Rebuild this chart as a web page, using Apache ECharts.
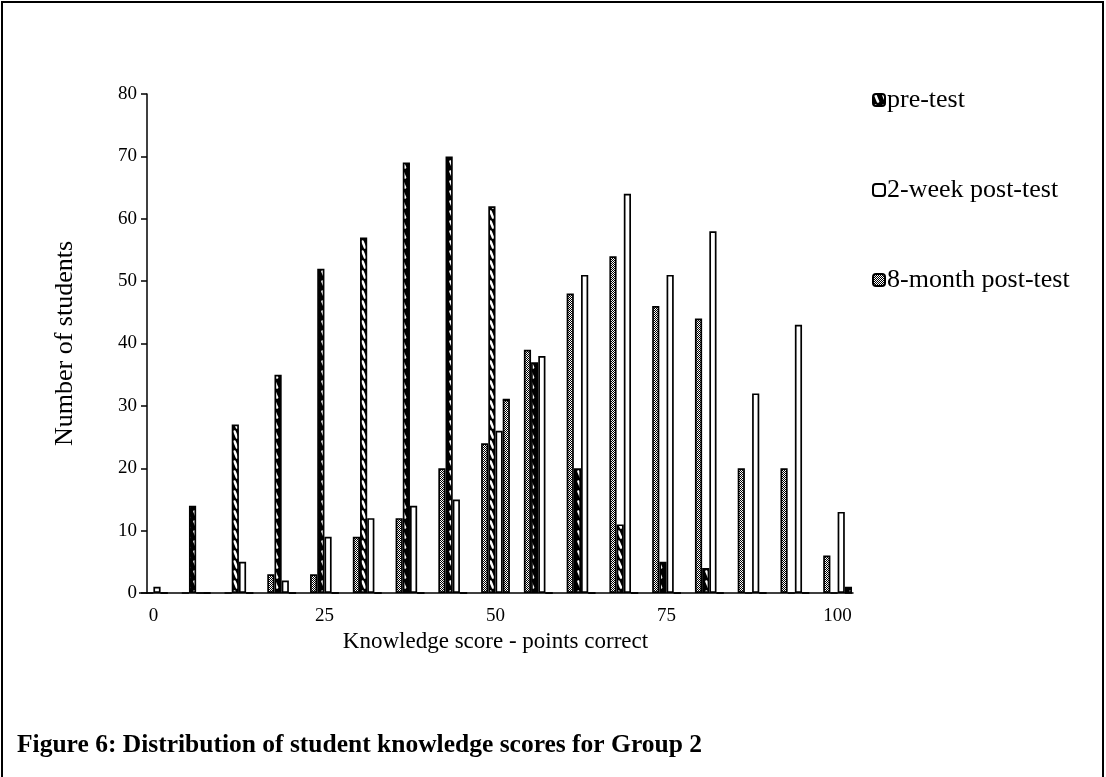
<!DOCTYPE html>
<html>
<head>
<meta charset="utf-8">
<script src="https://cdn.jsdelivr.net/npm/echarts@6/dist/echarts.min.js"></script>
<style>
  html, body { margin: 0; padding: 0; background: #fff; }
  #chart { width: 1106px; height: 777px; }
</style>
</head>
<body>
<div id="chart"></div>
<script>
// score categories (16 questions, 6.25 points each)
const scores = ['0', '6.25', '12.5', '18.75', '25', '31.25', '37.5', '43.75', '50',
  '56.25', '62.5', '68.75', '75', '81.25', '87.5', '93.75', '100'];
const preTest    = [0, 14, 27, 35, 52, 57, 69, 70, 62, 37, 20, 11, 5, 4, 0, 0, 0];
const twoWeek    = [1, 0, 5, 2, 9, 12, 14, 15, 26, 38, 51, 64, 51, 58, 32, 43, 13];
const eightMonth = [0, 0, 0, 3, 3, 9, 12, 20, 24, 39, 48, 54, 46, 44, 20, 20, 6];
// stray fourth bar slot seen in the figure
const extraCheck = [0, 0, 0, 0, 0, 0, 0, 0, 31, 0, 0, 0, 0, 0, 0, 0, 0];
const extraHatch = [0, 0, 0, 0, 0, 0, 0, 0, 0, 0, 0, 0, 0, 0, 0, 0, 1];
const yTicks = [0, 10, 20, 30, 40, 50, 60, 70, 80];
const legendNames = ['pre-test', '2-week post-test', '8-month post-test'];

const FONT = '"Liberation Serif", "Times New Roman", serif';

function hatchPattern() {
  var c = document.createElement('canvas');
  c.width = 8; c.height = 10;
  var g = c.getContext('2d');
  g.fillStyle = '#000';
  g.fillRect(0, 0, 8, 10);
  g.strokeStyle = '#fff';
  g.lineWidth = 2.6;
  g.lineCap = 'round';
  g.beginPath();
  g.moveTo(2.5, 1.5);
  g.lineTo(5, 7.5);
  g.stroke();
  return c;
}
function checkPattern() {
  var c = document.createElement('canvas');
  c.width = 2; c.height = 2;
  var g = c.getContext('2d');
  g.fillStyle = '#fff';
  g.fillRect(0, 0, 2, 2);
  g.fillStyle = '#000';
  g.fillRect(0, 0, 1, 1);
  g.fillRect(1, 1, 1, 1);
  return c;
}
var hatch = { image: hatchPattern(), repeat: 'repeat' };
var check = { image: checkPattern(), repeat: 'repeat' };

function barSeries(name, data, fill, stack) {
  return {
    name: name,
    type: 'bar',
    xAxisIndex: 0,
    yAxisIndex: 0,
    data: data,
    stack: stack,
    barWidth: 7.2,
    barGap: '0%',
    itemStyle: { color: fill, borderColor: '#000', borderWidth: 1.7 },
    emphasis: { disabled: true },
    animation: false
  };
}

var myChart = echarts.init(document.getElementById('chart'));
var option = {
  backgroundColor: '#fff',
  textStyle: { fontFamily: FONT, color: '#000' },
  grid: [
    // bars live here, category bands line up with the figure
    { left: 132, right: 247, top: 94, bottom: 184 },
    // visible axes
    { left: 147, right: 253, top: 94, bottom: 184 }
  ],
  legend: {
    data: legendNames,
    orient: 'vertical',
    left: 867,
    top: 82,
    itemWidth: 12,
    itemHeight: 12,
    itemGap: 64,
    selectedMode: false,
    textStyle: { fontFamily: FONT, fontSize: 26, color: '#000', padding: [0, 0, 0, -3] }
  },
  xAxis: [
    {
      type: 'category',
      gridIndex: 0,
      data: scores,
      boundaryGap: true,
      axisLine: { show: false },
      axisTick: { show: false },
      axisLabel: {
        interval: 3,
        margin: 14,
        fontFamily: FONT,
        fontSize: 19,
        color: '#000'
      },
      name: 'Knowledge score - points correct',
      nameLocation: 'middle',
      nameGap: 30,
      nameTextStyle: { fontFamily: FONT, fontSize: 23, color: '#000' }
    },
    {
      type: 'value',
      gridIndex: 1,
      min: 0,
      max: 1,
      axisLine: { show: true, lineStyle: { color: '#000', width: 1.5 } },
      axisTick: { show: false },
      axisLabel: { show: false },
      splitLine: { show: false }
    }
  ],
  yAxis: [
    {
      type: 'value',
      gridIndex: 0,
      min: yTicks[0],
      max: yTicks[yTicks.length - 1],
      interval: 10,
      show: false
    },
    {
      type: 'value',
      gridIndex: 1,
      min: yTicks[0],
      max: yTicks[yTicks.length - 1],
      interval: 10,
      axisLine: { show: true, lineStyle: { color: '#000', width: 1.5 } },
      axisTick: { show: true, inside: false, length: 6, lineStyle: { color: '#000', width: 1.5 } },
      axisLabel: { margin: 10, fontFamily: FONT, fontSize: 19, color: '#000' },
      splitLine: { show: false },
      name: 'Number of students',
      nameLocation: 'middle',
      nameGap: 69,
      nameTextStyle: { fontFamily: FONT, fontSize: 26, color: '#000' }
    }
  ],
  series: [
    barSeries('8-month post-test', eightMonth, check),
    barSeries('pre-test', preTest, hatch),
    barSeries('2-week post-test', twoWeek, '#fff'),
    barSeries('extra-a', extraCheck, check, 'extra'),
    barSeries('extra-b', extraHatch, hatch, 'extra')
  ],
  graphic: [
    {
      type: 'rect',
      shape: { x: 2, y: 2, width: 1101, height: 820 },
      style: { fill: 'none', stroke: '#000', lineWidth: 2 },
      silent: true
    },
    {
      type: 'text',
      left: 17,
      top: 732,
      style: {
        text: 'Figure 6: Distribution of student knowledge scores for Group 2',
        font: 'bold 25.5px ' + FONT,
        fill: '#000'
      }
    }
  ]
};
myChart.setOption(option);
</script>
</body>
</html>
